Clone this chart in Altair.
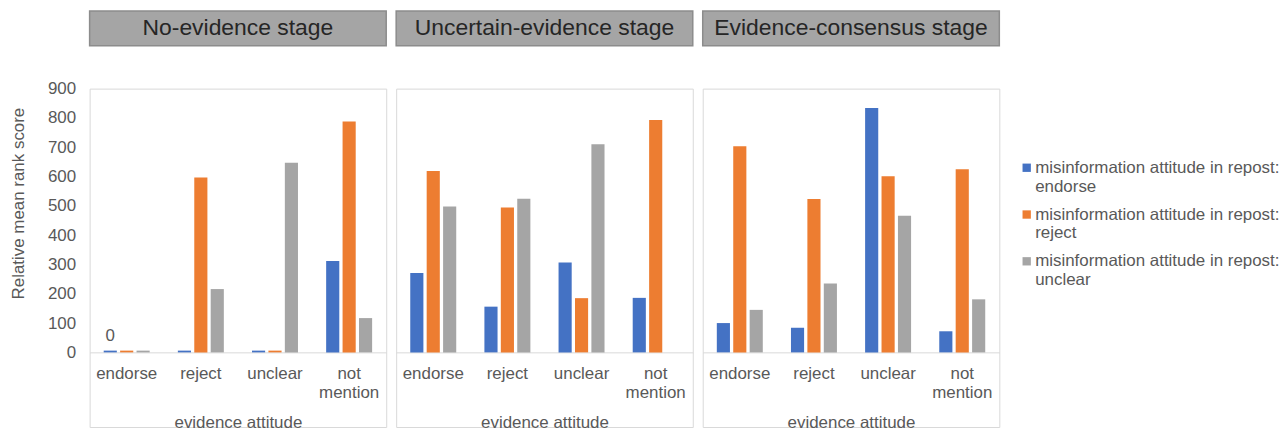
import altair as alt
import pandas as pd

# ---------------- data ----------------
stages = ["No-evidence stage", "Uncertain-evidence stage", "Evidence-consensus stage"]
evidence_attitudes = ["endorse", "reject", "unclear", "not mention"]
repost_attitudes = ["endorse", "reject", "unclear"]
colors = ["#4472C4", "#ED7D31", "#A5A5A5"]

no_ev_endorse = [6, 6, 6, 312]
no_ev_reject = [6, 597, 6, 788]
no_ev_unclear = [6, 216, 647, 117]

unc_endorse = [271, 156, 307, 186]
unc_reject = [619, 494, 185, 793]
unc_unclear = [498, 524, 710, 0]

con_endorse = [100, 84, 834, 72]
con_reject = [703, 523, 601, 625]
con_unclear = [145, 235, 466, 181]

y_ticks = [0, 100, 200, 300, 400, 500, 600, 700, 800, 900]
zero_note = {"stage": "No-evidence stage", "evidence": "endorse", "series": "endorse", "label": "0"}

series_by_stage = {
    stages[0]: [no_ev_endorse, no_ev_reject, no_ev_unclear],
    stages[1]: [unc_endorse, unc_reject, unc_unclear],
    stages[2]: [con_endorse, con_reject, con_unclear],
}

rows = []
for stage in stages:
    for s_name, vals in zip(repost_attitudes, series_by_stage[stage]):
        for ev, v in zip(evidence_attitudes, vals):
            rows.append({"stage": stage, "evidence": ev, "series": s_name, "value": v})
df = pd.DataFrame(rows)

note_df = df[(df.stage == zero_note["stage"]) & (df.evidence == zero_note["evidence"])
             & (df.series == zero_note["series"])].copy()
note_df["label"] = zero_note["label"]

# ---------------- layout constants ----------------
W, H = 298, 340          # each panel's plot area
PLOT_H = 265             # pixels used by 0..900
YMAX = 900
YMIN = -(H - PLOT_H) * YMAX / PLOT_H
GREY_TXT = "#595959"
FONT = "Liberation Sans"

y_scale = alt.Scale(domain=[YMIN, YMAX], nice=False, zero=False)
x_scale = alt.Scale(paddingInner=0.38, paddingOuter=0.19)
xo_scale = alt.Scale(paddingInner=0.2, paddingOuter=0)
color_scale = alt.Scale(domain=repost_attitudes, range=colors)

legend = alt.Legend(
    title="\u00a0", titleFontSize=10, titlePadding=61, orient="right", offset=17,
    symbolType="square", symbolSize=70, symbolStrokeWidth=0,
    labelExpr="['misinformation attitude in repost:', datum.label]",
    labelFontSize=17, labelColor=GREY_TXT, labelFont=FONT,
    labelLimit=400, rowPadding=10, labelOffset=0, padding=0,
)

x_axis = alt.Axis(
    title="evidence attitude", labelAngle=0, ticks=False, grid=False,
    domainColor="#d9d9d9", offset=-(H - PLOT_H),
    labelExpr="datum.label == 'not mention' ? ['not', 'mention'] : datum.label",
    labelPadding=13, labelLineHeight=19, titlePadding=14,
)

y_axis_main = alt.Axis(
    values=y_ticks, title="Relative mean rank score", domain=False, ticks=False,
    grid=False, labelPadding=14, titleX=-71, titleY=115, titleAngle=-90,
    titleBaseline="middle", titleAlign="center", labelOverlap=False,
    labelFlush=False, labelBound=False,
)


def panel(i, stage):
    d = df[df.stage == stage]
    y_axis = y_axis_main if i == 0 else None

    bars = alt.Chart(d).mark_bar().encode(
        x=alt.X("evidence:N", sort=evidence_attitudes, scale=x_scale, axis=x_axis),
        xOffset=alt.XOffset("series:N", sort=repost_attitudes, scale=xo_scale),
        y=alt.Y("value:Q", scale=y_scale, axis=y_axis),
        y2=alt.datum(0),
        color=alt.Color("series:N", scale=color_scale, legend=legend),
    )

    hdr = alt.Chart(alt.Data(values=[{"stage": stage}]))
    box = hdr.mark_rect(fill="#a5a5a5", stroke="#8c8c8c", strokeWidth=1.5).encode(
        x=alt.value(0), x2=alt.value(W), y=alt.value(-78), y2=alt.value(-43)
    )
    hdr_text = hdr.mark_text(
        font=FONT, fontSize=23, color="#262626", baseline="middle"
    ).encode(x=alt.value(W / 2), y=alt.value(-60.5), text="stage:N")

    layers = [box, hdr_text, bars]
    if stage == zero_note["stage"]:
        note = alt.Chart(note_df).mark_text(
            baseline="bottom", dy=-6, fontSize=17, color=GREY_TXT, font=FONT
        ).encode(
            x=alt.X("evidence:N", sort=evidence_attitudes, scale=x_scale, axis=x_axis),
            xOffset=alt.XOffset("series:N", sort=repost_attitudes, scale=xo_scale),
            y=alt.Y("value:Q", scale=y_scale, axis=y_axis),
            text="label:N",
        )
        layers.append(note)
    return alt.layer(*layers).properties(width=W, height=H)


chart = alt.hconcat(*[panel(i, s) for i, s in enumerate(stages)], spacing=6).resolve_scale(
    color="shared", y="shared"
).properties(
    padding={"left": 1, "top": 0, "right": 0, "bottom": 0}
).configure(
    background="white",
    style={"guide-label": {"lineHeight": 19}},
    view={"stroke": "#d9d9d9", "strokeWidth": 1},
    axis={
        "labelFont": FONT, "titleFont": FONT, "labelFontSize": 17, "titleFontSize": 17,
        "labelColor": GREY_TXT, "titleColor": GREY_TXT, "titleFontWeight": "normal",
    },
)

chart.save("out.html", embed_options={"renderer": "svg", "actions": False})
